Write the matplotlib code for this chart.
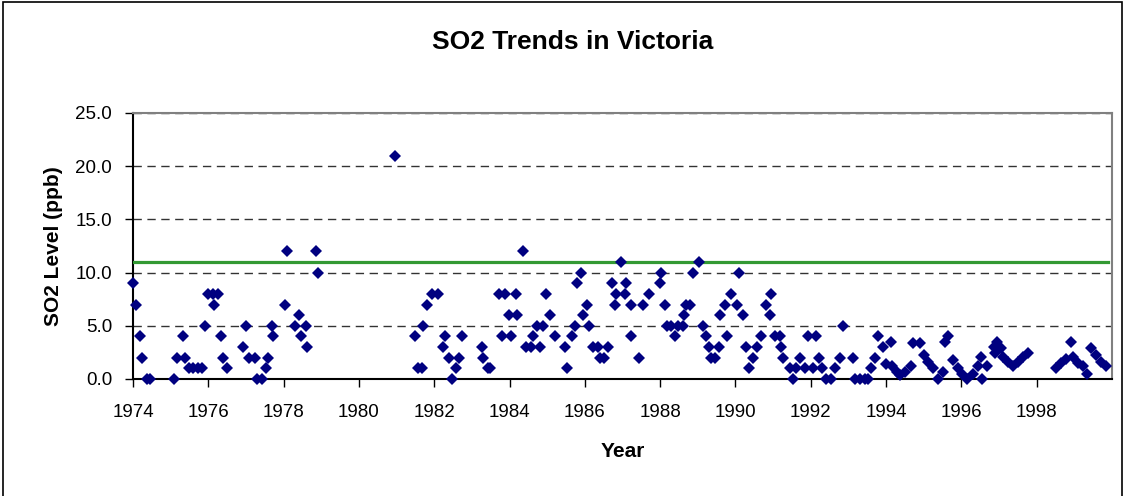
import numpy as np
import matplotlib
matplotlib.use("Agg")
import matplotlib.pyplot as plt
from matplotlib.patches import Rectangle

# SO2 readings (decimal year, ppb)
years = [1974.01, 1974.07, 1974.18, 1974.23, 1974.36, 1974.45,
         1975.09, 1975.16, 1975.34, 1975.38, 1975.5, 1975.6, 1975.72, 1975.83,
         1975.9, 1975.98, 1976.12, 1976.27, 1976.15, 1976.35, 1976.4, 1976.5,
         1976.93, 1976.99, 1977.09, 1977.24, 1977.3, 1977.42, 1977.52, 1977.58,
         1977.68, 1977.72,
         1978.04, 1978.08, 1978.31, 1978.42, 1978.47, 1978.6, 1978.63, 1978.86, 1978.92,
         1980.97,
         1981.5, 1981.57, 1981.68, 1981.71, 1981.82, 1981.93, 1982.1, 1982.24, 1982.3,
         1982.39, 1982.47, 1982.57, 1982.66, 1982.73,
         1983.26, 1983.3, 1983.43, 1983.49, 1983.72, 1983.8, 1983.89, 1983.98, 1984.05,
         1984.16, 1984.21, 1984.36, 1984.45, 1984.58, 1984.63, 1984.72, 1984.8, 1984.89,
         1984.96, 1985.07, 1985.22, 1985.48, 1985.54, 1985.65, 1985.75, 1985.8, 1985.91,
         1985.95, 1986.06, 1986.11, 1986.22, 1986.35, 1986.4, 1986.5, 1986.62, 1986.71,
         1986.8, 1986.84, 1986.97, 1987.08, 1987.1, 1987.22, 1987.24, 1987.43, 1987.55,
         1987.71, 1988.0, 1988.03, 1988.14, 1988.17, 1988.3, 1988.4, 1988.48, 1988.61,
         1988.63, 1988.7, 1988.79, 1988.87, 1989.03, 1989.14, 1989.21, 1989.3, 1989.36,
         1989.45, 1989.56, 1989.6, 1989.72, 1989.78, 1989.89, 1990.04, 1990.1, 1990.2,
         1990.29, 1990.36, 1990.47, 1990.56, 1990.69, 1990.8, 1990.91, 1990.95, 1991.04,
         1991.18, 1991.22, 1991.26, 1991.44, 1991.53, 1991.62, 1991.71, 1991.84, 1991.93,
         1992.06, 1992.13, 1992.22, 1992.31, 1992.4, 1992.55, 1992.64, 1992.77, 1992.87,
         1993.12, 1993.17, 1993.3, 1993.43, 1993.52, 1993.61, 1993.7, 1993.79, 1993.92,
         1994.0, 1994.14, 1994.16, 1994.3, 1994.38, 1994.5, 1994.65, 1994.71, 1994.89,
         1995.02, 1995.11, 1995.24, 1995.37, 1995.5, 1995.56, 1995.64, 1995.77, 1995.9,
         1996.03, 1996.16, 1996.3, 1996.43, 1996.52, 1996.56, 1996.69, 1996.87, 1996.9,
         1996.96, 1997.05, 1997.1, 1997.23, 1997.36, 1997.5, 1997.63, 1997.76,
         1998.52, 1998.64, 1998.78, 1998.92, 1998.96, 1999.09, 1999.22, 1999.35,
         1999.44, 1999.57, 1999.7, 1999.83]
so2 = [9, 7, 4, 2, 0, 0,
       0, 2, 4, 2, 1, 1, 1, 1,
       5, 8, 8, 8, 7, 4, 2, 1,
       3, 5, 2, 2, 0, 0, 1, 2,
       5, 4,
       7, 12, 5, 6, 4, 5, 3, 12, 10,
       21,
       4, 1, 1, 5, 7, 8, 8, 3, 4,
       2, 0, 1, 2, 4,
       3, 2, 1, 1, 8, 4, 8, 6, 4,
       8, 6, 12, 3, 3, 4, 5, 3, 5,
       8, 6, 4, 3, 1, 4, 5, 9, 10,
       6, 7, 5, 3, 3, 2, 2, 3, 9,
       7, 8, 11, 8, 9, 4, 7, 2, 7,
       8, 9, 10, 7, 5, 5, 4, 5, 5,
       6, 7, 7, 10, 11, 5, 4, 3, 2,
       2, 3, 6, 7, 4, 8, 7, 10, 6,
       3, 1, 2, 3, 4, 7, 6, 8, 4,
       4, 3, 2, 1, 0, 1, 2, 1, 4,
       1, 4, 2, 1, 0, 0, 1, 2, 5,
       2, 0, 0, 0, 0, 1, 2, 4, 3,
       1.4, 3.5, 1.2, 0.7, 0.4, 0.7, 1.2, 3.4, 3.4,
       2.3, 1.6, 1.0, 0.0, 0.7, 3.5, 4.0, 1.8, 1.0,
       0.5, 0.0, 0.5, 1.2, 2.1, 0.0, 1.2, 3.0, 2.4,
       3.5, 2.9, 2.1, 1.6, 1.2, 1.6, 2.1, 2.4,
       1.0, 1.5, 1.9, 3.5, 2.1, 1.5, 1.2, 0.5,
       2.9, 2.3, 1.6, 1.2]

# objective line
objective = 11
objective_years = [1974, 1999.9]

fig = plt.figure(figsize=(11.25, 4.96), dpi=100)
ax = fig.add_axes([0.1182, 0.2359, 0.8702, 0.5363])

ax.plot(years, so2, 'D', color='#000080', markersize=6.5, markeredgewidth=0, clip_on=False, zorder=4)
ax.plot(objective_years, [objective, objective], color='#339933', linewidth=2.3, zorder=3)

ax.set_xlim(1974, 2000)
ax.set_ylim(0, 25)
ax.set_xticks(np.arange(1974, 1999, 2))
ax.set_yticks(np.arange(0, 26, 5))
ax.set_yticklabels(['%.1f' % v for v in np.arange(0, 26, 5)])
ax.yaxis.grid(True, linestyle=(0, (6, 4)), color='#333333', linewidth=1.0)
ax.set_axisbelow(True)
ax.tick_params(axis='both', labelsize=13.5, direction='out', length=6, width=1, colors='black')
ax.tick_params(axis='x', pad=12)
ax.tick_params(axis='y', pad=9)

for side in ['top', 'right']:
    ax.spines[side].set_color('#808080')
    ax.spines[side].set_linewidth(1.5)
for side in ['left', 'bottom']:
    ax.spines[side].set_color('black')
    ax.spines[side].set_linewidth(1.5)

for lab in ax.get_xticklabels() + ax.get_yticklabels():
    lab.set_family('Liberation Sans')

ax.set_xlabel('Year', fontsize=15, fontweight='bold', family='Liberation Sans', labelpad=15)
ax.set_ylabel('SO2 Level (ppb)', fontsize=15, fontweight='bold', family='Liberation Sans', labelpad=9)
fig.text(0.509, 0.915, 'SO2 Trends in Victoria', ha='center', va='center',
         fontsize=19, fontweight='bold', family='Liberation Sans')

# chart area border
fig.patches.append(Rectangle((3 / 1125, -0.01), 1119 / 1125, 1 - 2 / 496 + 0.01,
                             transform=fig.transFigure, fill=False, edgecolor='black', linewidth=1.2))

fig.savefig('out.png', dpi=100)
